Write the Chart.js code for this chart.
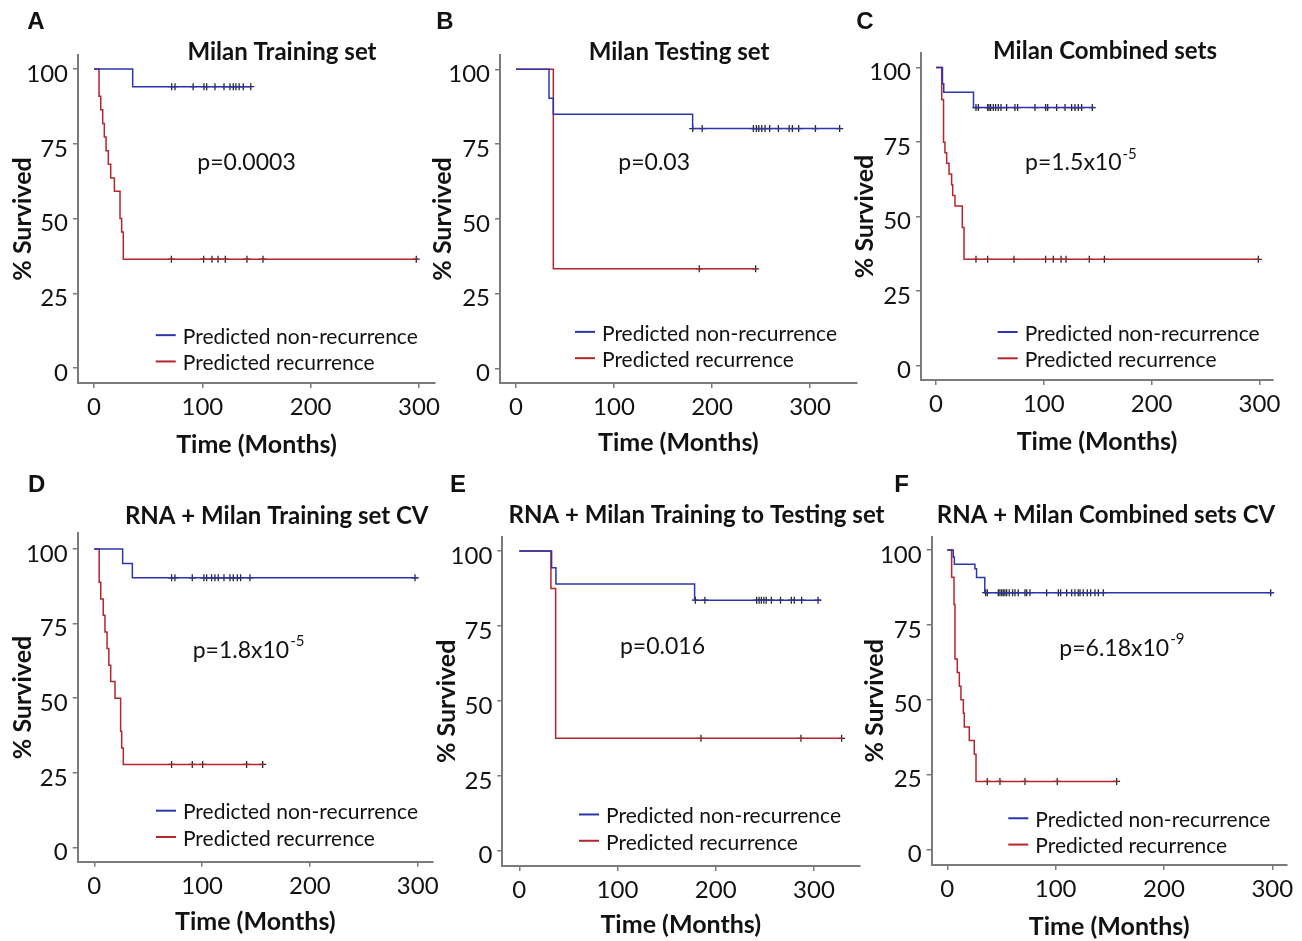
<!DOCTYPE html>
<html>
<head>
<meta charset="utf-8">
<title>Kaplan-Meier survival curves</title>
<script src="https://cdn.jsdelivr.net/npm/chart.js@4.4.1/dist/chart.umd.min.js"></script>
<style>
  html, body { margin: 0; padding: 0; background: #fff; }
  body { position: relative; width: 1302px; height: 941px; overflow: hidden; }
  canvas { position: absolute; }
</style>
</head>
<body>
<script>
// tick labels shared by every panel
var timeTicks = [0, 100, 200, 300];
var survTicks = [0, 25, 50, 75, 100];

// A - Milan Training set
var aNonRecTime = [0, 35.7, 145];
var aNonRecSurv = [100, 94.1, 94.1];
var aNonRecCens = [71.7, 74.8, 91.5, 101.5, 104, 111.7, 120, 125.5, 128.6, 131, 134, 137.8, 144.7];
var aRecTime = [0, 4.6, 6.2, 8, 9.5, 11.1, 13.2, 15.4, 18.8, 24, 25.5, 27, 299];
var aRecSurv = [100, 90.9, 86.4, 81.8, 77.3, 72.7, 68.2, 63.6, 59.1, 50, 45.5, 36.4, 36.4];
var aRecCens = [71.4, 101.2, 108.9, 114.5, 121.2, 141.2, 156, 297.5];

// B - Milan Testing set
var bNonRecTime = [0, 33.7, 38.1, 180.2, 331];
var bNonRecSurv = [100, 90.3, 85.0, 80.2, 80.2];
var bNonRecCens = [180.3, 190, 242.2, 245.3, 247.7, 250.7, 254.1, 258.8, 267.7, 278.7, 282, 288.4, 305.5, 330.2];
var bRecTime = [0, 38.1, 245];
var bRecSurv = [100, 33.3, 33.3];
var bRecCens = [187, 244.5];

// C - Milan Combined sets
var cNonRecTime = [0, 6, 7.2, 34.8, 147];
var cNonRecSurv = [100, 94.6, 91.7, 86.6, 86.6];
var cNonRecCens = [37.1, 39.3, 47.9, 49.2, 50.7, 53.2, 55.3, 57.8, 60.3, 65.5, 73.2, 75.7, 91.8, 101.7, 103.6, 111.9, 119.7, 125.8, 128.9, 132, 135.1, 145];
var cRecTime = [0, 5.3, 7, 8.3, 9.9, 12.1, 14.5, 15.5, 17.6, 24.4, 26, 300];
var cRecSurv = [100, 89.3, 75, 71.4, 67.9, 64.3, 60.7, 57.1, 53.6, 46.4, 35.7, 35.7];
var cRecCens = [37.1, 47.9, 72.4, 101.7, 108.8, 116, 120.6, 142.2, 156.2, 299];

// D - RNA + Milan Training set CV
var dNonRecTime = [0, 26.3, 35.3, 300.5];
var dNonRecSurv = [100, 95.2, 90.4, 90.4];
var dNonRecCens = [71.7, 74.8, 90.9, 101.7, 104.2, 108.8, 111.9, 115, 120.3, 125.8, 128.9, 132.7, 135.7, 144.4, 297.5];
var dRecTime = [0, 4.5, 6, 8.3, 9.9, 11.8, 13.5, 15.2, 19.2, 24.4, 25.4, 26.9, 157];
var dRecSurv = [100, 88.9, 83.3, 77.8, 72.2, 66.7, 61.1, 55.6, 50, 38.9, 33.3, 27.8, 27.8];
var dRecCens = [71.7, 90.9, 100.5, 141.3, 156.2];

// E - RNA + Milan Training to Testing set
var eNonRecTime = [0, 32.9, 37.3, 178.5, 307];
var eNonRecSurv = [100, 94.4, 89.0, 83.6, 83.6];
var eNonRecCens = [179.3, 189, 241.7, 244.2, 246.5, 249, 251.4, 256.7, 266, 277, 280, 287.5, 304.2];
var eRecTime = [0, 32.2, 37, 329];
var eRecSurv = [100, 87.5, 37.5, 37.5];
var eRecCens = [185, 286.8, 328.2];

// F - RNA + Milan Combined sets CV
var fNonRecTime = [0, 5.5, 6.5, 25.5, 27, 34.6, 301];
var fNonRecSurv = [100, 97.6, 95.2, 93.7, 90.8, 85.7, 85.7];
var fNonRecCens = [35.4, 36.9, 47.1, 48.6, 50.2, 51.7, 53.2, 54.8, 57.2, 60.3, 62.5, 65.5, 71.7, 73.2, 76.3, 91.7, 102.5, 104.6, 110.2, 114.8, 117.8, 120.9, 122.5, 125.5, 129.2, 132.3, 136.3, 139.4, 144, 298.5];
var fRecTime = [0, 4, 6.2, 7.1, 9.2, 11.1, 12.6, 14.8, 15.7, 20.3, 24.9, 26.5, 157.5];
var fRecSurv = [100, 90.9, 81.8, 63.6, 59.1, 54.5, 50, 45.5, 40.9, 36.4, 31.8, 22.7, 22.7];
var fRecCens = [36.9, 48.6, 71.7, 101.5, 156.3];

var seriesNames = ['Predicted non-recurrence', 'Predicted recurrence'];

var axisGray = '#7b7b7b';
var ink = '#121212';
var blueLine = '#2c35ad';
var redLine = '#b3262b';
var censorInk = '#2a2a2a';
var AXIS_TITLE_SIZE = 25;
var AXIS_TITLE_LH = AXIS_TITLE_SIZE * 1.2;
var TOP_ROOM = 70;

// page layout of each panel (pixel boxes), plus notes in data units
var panels = [
  { letter: 'A', title: 'Milan Training set', pText: 'p=0.0003', pSup: '',
    nonRec: [aNonRecTime, aNonRecSurv, aNonRecCens], rec: [aRecTime, aRecSurv, aRecCens],
    area: [78, 55, 435, 383], xRange: [-14.8, 314.8], yRange: [-5.0, 104.7],
    titleAt: [282, 52], yTitleX: 23, xTitleY: 445, letterAt: [36, 22],
    pAt: [95.4, 68.6], legendAt: [57, 11.0] },
  { letter: 'B', title: 'Milan Testing set', pText: 'p=0.03', pSup: '',
    nonRec: [bNonRecTime, bNonRecSurv, bNonRecCens], rec: [bRecTime, bRecSurv, bRecCens],
    area: [500, 55, 856.7, 383], xRange: [-16.3, 347.6], yRange: [-4.9, 104.8],
    titleAt: [679, 52], yTitleX: 443.3, xTitleY: 443.3, letterAt: [445, 22],
    pAt: [104.4, 68.7], legendAt: [60.2, 12.2] },
  { letter: 'C', title: 'Milan Combined sets', pText: 'p=1.5x10', pSup: '-5',
    nonRec: [cNonRecTime, cNonRecSurv, cNonRecCens], rec: [cRecTime, cRecSurv, cRecCens],
    area: [921, 53, 1273, 380], xRange: [-13.9, 312.6], yRange: [-4.8, 104.9],
    titleAt: [1105, 51.7], yTitleX: 865, xTitleY: 441.7, letterAt: [865, 22],
    pAt: [82.6, 68], legendAt: [57.2, 11.3] },
  { letter: 'D', title: 'RNA + Milan Training set CV', pText: 'p=1.8x10', pSup: '-5',
    nonRec: [dNonRecTime, dNonRecSurv, dNonRecCens], rec: [dRecTime, dRecSurv, dRecCens],
    area: [77.7, 533.3, 433, 861.7], xRange: [-15.4, 314.2], yRange: [-4.8, 105.3],
    titleAt: [276.7, 516.7], yTitleX: 23.3, xTitleY: 921.7, letterAt: [36.7, 485],
    pAt: [91.3, 66.1], legendAt: [57.2, 12.3] },
  { letter: 'E', title: 'RNA + Milan Training to Testing set', pText: 'p=0.016', pSup: '',
    nonRec: [eNonRecTime, eNonRecSurv, eNonRecCens], rec: [eRecTime, eRecSurv, eRecCens],
    area: [502.3, 536.7, 859.3, 866], xRange: [-17.3, 346.2], yRange: [-5.1, 104.8],
    titleAt: [696.5, 515], yTitleX: 446.7, xTitleY: 925, letterAt: [458, 485],
    pAt: [102.5, 68.1], legendAt: [60.8, 12.1] },
  { letter: 'F', title: 'RNA + Milan Combined sets CV', pText: 'p=6.18x10', pSup: '-9',
    nonRec: [fNonRecTime, fNonRecSurv, fNonRecCens], rec: [fRecTime, fRecSurv, fRecCens],
    area: [931.7, 536.7, 1286.7, 865], xRange: [-14.4, 313.3], yRange: [-5.2, 104.4],
    titleAt: [1106, 515], yTitleX: 875, xTitleY: 926.7, letterAt: [901.7, 485],
    pAt: [103.4, 67.2], legendAt: [56.3, 10.4] }
];

function curvePoints(c) {
  return c[0].map(function (t, i) { return { x: t, y: c[1][i] }; });
}

// survival level of a curve at time t (last step at or before t)
function levelAt(c, t) {
  var v = c[1][0];
  for (var i = 0; i < c[0].length; i++) {
    if (c[0][i] <= t) v = c[1][i];
  }
  return v;
}

function censorPoints(c) {
  return c[2].map(function (t) { return { x: t, y: levelAt(c, t) }; });
}

// titles, panel letter, p-value and the in-plot legend
var kmNotes = {
  id: 'kmNotes',
  afterDraw: function (chart, args, o) {
    var ctx = chart.ctx, xs = chart.scales.x, ys = chart.scales.y;
    ctx.save();
    ctx.fillStyle = ink;

    ctx.font = 'bold 24px "Liberation Sans", Arial, sans-serif';
    ctx.textAlign = 'center';
    ctx.textBaseline = 'middle';
    ctx.fillText(o.letter, o.letterAt[0] - o.ox, o.letterAt[1] - o.oy);

    ctx.font = 'bold 24px Lato, sans-serif';
    ctx.fillText(o.title, o.titleAt[0] - o.ox, o.titleAt[1] - o.oy);

    // p-value
    ctx.textAlign = 'left';
    ctx.font = '23px Lato, sans-serif';
    var px = xs.getPixelForValue(o.pAt[0]);
    var py = ys.getPixelForValue(o.pAt[1]);
    ctx.fillText(o.pText, px, py);
    if (o.pSup) {
      var w = ctx.measureText(o.pText).width;
      ctx.font = '15px Lato, sans-serif';
      ctx.fillText(o.pSup, px + w + 1, py - 9);
    }

    // legend
    var lx = xs.getPixelForValue(o.legendAt[0]);
    var ly = ys.getPixelForValue(o.legendAt[1]);
    ctx.font = '21px Lato, sans-serif';
    for (var i = 0; i < 2; i++) {
      var ds = chart.data.datasets[i];
      var y = ly + i * 26.3;
      ctx.strokeStyle = ds.borderColor;
      ctx.lineWidth = 2;
      ctx.beginPath();
      ctx.moveTo(lx, y);
      ctx.lineTo(lx + 20, y);
      ctx.stroke();
      ctx.fillText(ds.label, lx + 27, y + 2);
    }
    ctx.restore();
  }
};

function axisGrid() {
  return { drawOnChartArea: false, drawTicks: true, tickLength: 5, color: axisGray, lineWidth: 1.5 };
}

panels.forEach(function (p) {
  var L = p.area[0], T = p.area[1], R = p.area[2], B = p.area[3];
  var cx = Math.round(p.yTitleX - AXIS_TITLE_LH / 2);
  var cy = Math.round(T - TOP_ROOM);
  var topPad = T - cy;
  var yw = L - cx;
  var W = Math.round(Math.max(R - cx + 40, p.titleAt[0] + 215 - cx));
  var padR = W - (R - cx);
  var H = Math.round(p.xTitleY + AXIS_TITLE_LH / 2 - cy);
  var xh = H - (B - cy);

  var canvas = document.createElement('canvas');
  canvas.width = W;
  canvas.height = H;
  canvas.style.left = cx + 'px';
  canvas.style.top = cy + 'px';
  canvas.style.width = W + 'px';
  canvas.style.height = H + 'px';
  document.body.appendChild(canvas);

  new Chart(canvas, {
    type: 'line',
    data: {
      datasets: [
        { label: seriesNames[0], data: curvePoints(p.nonRec), borderColor: blueLine, borderWidth: 1.5,
          stepped: true, pointRadius: 0, fill: false },
        { label: seriesNames[1], data: curvePoints(p.rec), borderColor: redLine, borderWidth: 1.5,
          stepped: true, pointRadius: 0, fill: false },
        { label: 'censored', data: censorPoints(p.nonRec), showLine: false, pointStyle: 'cross',
          pointRadius: 3.5, pointBorderColor: censorInk, pointBorderWidth: 1.3, borderColor: censorInk },
        { label: 'censored', data: censorPoints(p.rec), showLine: false, pointStyle: 'cross',
          pointRadius: 3.5, pointBorderColor: censorInk, pointBorderWidth: 1.3, borderColor: censorInk }
      ]
    },
    options: {
      responsive: false,
      animation: false,
      devicePixelRatio: 1,
      events: [],
      layout: { padding: { left: 0, top: topPad, right: padR, bottom: 0 } },
      plugins: {
        legend: { display: false },
        tooltip: { enabled: false },
        title: { display: false },
        kmNotes: {
          letter: p.letter, title: p.title, pText: p.pText, pSup: p.pSup,
          letterAt: p.letterAt, titleAt: p.titleAt, pAt: p.pAt, legendAt: p.legendAt,
          ox: cx, oy: cy
        }
      },
      scales: {
        x: {
          type: 'linear',
          min: p.xRange[0],
          max: p.xRange[1],
          afterBuildTicks: function (s) { s.ticks = timeTicks.map(function (v) { return { value: v }; }); },
          afterFit: function (s) {
            s.height = xh;
            s.paddingLeft = 0; s.paddingRight = 0; s.paddingTop = 0; s.paddingBottom = 0;
          },
          ticks: { font: { family: 'Lato', size: 24 }, color: ink, padding: 5, maxRotation: 0 },
          grid: axisGrid(),
          border: { display: true, color: axisGray, width: 2 },
          title: { display: true, text: 'Time (Months)', color: ink,
                   font: { family: 'Lato', weight: 'bold', size: AXIS_TITLE_SIZE, lineHeight: 1.2 },
                   padding: { top: 0, bottom: 0 } }
        },
        y: {
          type: 'linear',
          min: p.yRange[0],
          max: p.yRange[1],
          afterBuildTicks: function (s) { s.ticks = survTicks.map(function (v) { return { value: v }; }); },
          afterFit: function (s) {
            s.width = yw;
            s.paddingLeft = 0; s.paddingRight = 0; s.paddingTop = 0; s.paddingBottom = 0;
          },
          ticks: { font: { family: 'Lato', size: 24 }, color: ink, padding: 5, labelOffset: 5 },
          grid: axisGrid(),
          border: { display: true, color: axisGray, width: 2 },
          title: { display: true, text: '% Survived', color: ink,
                   font: { family: 'Lato', weight: 'bold', size: AXIS_TITLE_SIZE, lineHeight: 1.2 },
                   padding: { top: 0, bottom: 0 } }
        }
      }
    },
    plugins: [kmNotes]
  });
});
</script>
</body>
</html>
